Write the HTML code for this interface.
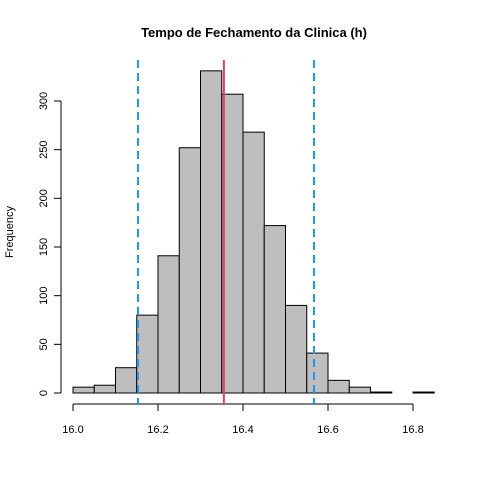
<!DOCTYPE html>
<html><head><meta charset="utf-8"><style>
body{margin:0;background:#fff}
svg text{font-family:"Liberation Sans",Arial,sans-serif;fill:#000}
</style></head><body>
<svg id="chart" width="480" height="480" viewBox="0 0 480 480">
<text x="254" y="37" font-size="13" font-weight="bold" text-anchor="middle">Tempo de Fechamento da Clinica (h)</text>
<text transform="translate(13,232) rotate(-90)" font-size="11" text-anchor="middle">Frequency</text>
<g id="bars"></g><g id="xaxis"></g><g id="yaxis"></g><g id="lines"></g>
</svg>
<script>
const binStarts=[16.00,16.05,16.10,16.15,16.20,16.25,16.30,16.35,16.40,16.45,16.50,16.55,16.60,16.65,16.70,16.75,16.80];
const counts=[6,8,26,80,141,252,331,307,268,172,90,41,13,6,1,0,1];
const binWidth=0.05;
const xTicks=[16.0,16.2,16.4,16.6,16.8];
const xTickLabels=["16.0","16.2","16.4","16.6","16.8"];
const yTicks=[0,50,100,150,200,250,300];
const meanValue=16.355;
const limits=[16.153,16.567];
const NS="http://www.w3.org/2000/svg";
function x(v){return 73+(v-16.0)*425;}
function y(v){return 393-v*0.9733;}
function mk(tag,attrs,parent){const e=document.createElementNS(NS,tag);for(const k in attrs)e.setAttribute(k,attrs[k]);parent.appendChild(e);return e;}
const bars=document.getElementById('bars');
binStarts.forEach((b,i)=>{
 const r=mk('rect',{x:x(b),y:y(counts[i]),width:x(b+binWidth)-x(b),height:y(0)-y(counts[i]),fill:'#bebebe',stroke:'#000','stroke-width':1},bars);
 
 
});
const xa=document.getElementById('xaxis');
const xl=mk('line',{x1:x(xTicks[0]),x2:x(xTicks[xTicks.length-1]),y1:404,y2:404,stroke:'#000'},xa);


xTicks.forEach((t,i)=>{
 mk('line',{x1:x(t),x2:x(t),y1:404,y2:411,stroke:'#000'},xa);
 const tx=mk('text',{x:x(t),y:433,'font-size':11,'text-anchor':'middle'},xa);
 tx.textContent=xTickLabels[i];
 
 
});
const ya=document.getElementById('yaxis');
const yl=mk('line',{x1:61,x2:61,y1:y(yTicks[0]),y2:y(yTicks[yTicks.length-1]),stroke:'#000'},ya);


yTicks.forEach(t=>{
 mk('line',{x1:54,x2:61,y1:y(t),y2:y(t),stroke:'#000'},ya);
 const tx=mk('text',{transform:`translate(47,${y(t)}) rotate(-90)`,'font-size':11,'text-anchor':'middle'},ya);
 tx.textContent=String(t);
 
 
});
const ln=document.getElementById('lines');
limits.forEach(v=>{
 const l=mk('line',{x1:x(v),x2:x(v),y1:60,y2:405,stroke:'#2196f3','stroke-width':2,'stroke-dasharray':'8,5'},ln);
 
 
});
const m=mk('line',{x1:x(meanValue),x2:x(meanValue),y1:60,y2:405,stroke:'#e8415a','stroke-width':2},ln);


</script>
</body></html>
